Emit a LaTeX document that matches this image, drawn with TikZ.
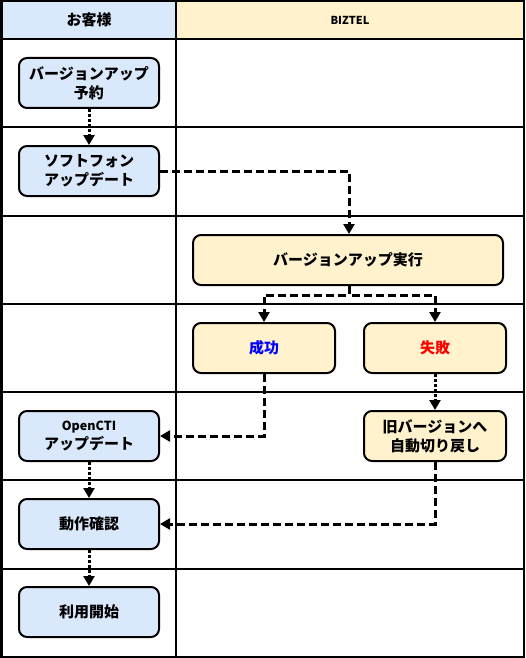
\documentclass[tikz,border=0pt]{standalone}
\usepackage{fontspec}
\setmainfont{Noto Sans CJK JP}
\usetikzlibrary{arrows.meta}
\definecolor{boxblue}{HTML}{DAE8FC}
\definecolor{boxyellow}{HTML}{FFF2CC}
\begin{document}
\begin{tikzpicture}[x=1pt,y=-1pt,
  every node/.style={font=\fontsize{15}{19}\selectfont\bfseries},
  proc/.style={draw, line width=2pt, rounded corners=8pt, align=center, inner sep=0pt},
  bluebox/.style={proc, fill=boxblue, minimum width=140pt, minimum height=50pt},
  yelbox/.style={proc, fill=boxyellow, minimum height=50pt},
  grid/.style={line width=2.5pt},
  conn/.style={line width=3pt, -{Triangle[length=10pt,width=11pt]}},
  dashconn/.style={conn, dash pattern=on 8pt off 4pt},
  dotconn/.style={conn, dash pattern=on 3pt off 2pt}
]
\useasboundingbox (0,0) rectangle (525,658);
% header fills
\fill[boxblue] (1,1) rectangle (176,39);
\fill[boxyellow] (176,1) rectangle (524,39);
% grid
\draw[grid] (1.25,1.25) rectangle (523.75,656.75);
\draw[grid] (176,1) -- (176,657);
\foreach \yy in {39,127,216,304,392,480,569} {\draw[grid] (1,\yy) -- (524,\yy);}
% header labels
\node (hcust) at (89,20) {お客様};
\node[font=\fontsize{11}{12}\selectfont\bfseries] (hbiz) at (350,20) {BIZTEL};
% boxes
\node[bluebox] (yoyaku) at (89,83) {バージョンアップ\\予約};
\node[bluebox] (soft) at (89,171) {ソフトフォン\\アップデート};
\node[yelbox, minimum width=310pt] (jikko) at (348,260) {バージョンアップ実行};
\node[yelbox, minimum width=142pt, text=blue] (seiko) at (264,348) {成功};
\node[yelbox, minimum width=142pt, text=red] (shippai) at (435,348) {失敗};
\node[yelbox, minimum width=142pt] (kyu) at (435,436) {旧バージョンへ\\自動切り戻し};
\node[bluebox] (opencti) at (89,436) {{\fontsize{12.5}{19}\selectfont OpenCTI}\\アップデート};
\node[bluebox] (dosa) at (89,524) {動作確認};
\node[bluebox] (riyo) at (89,612) {利用開始};
% connectors
\coordinate (split) at (349,295);
\draw[dotconn] (yoyaku) -- (soft);
\draw[dashconn] (soft.east) -| (jikko.north -| split);
\draw[dashconn] (jikko.south -| split) -- (split) -| (seiko.north);
\draw[dashconn] (jikko.south -| split) -- (split) -| (shippai.north);
\draw[dashconn] (seiko.south) |- (opencti.east);
\draw[dotconn] (shippai) -- (kyu);
\draw[dashconn] (kyu.south) |- (dosa.east);
\draw[dotconn] (opencti) -- (dosa);
\draw[dotconn] (dosa) -- (riyo);
\end{tikzpicture}
\end{document}
